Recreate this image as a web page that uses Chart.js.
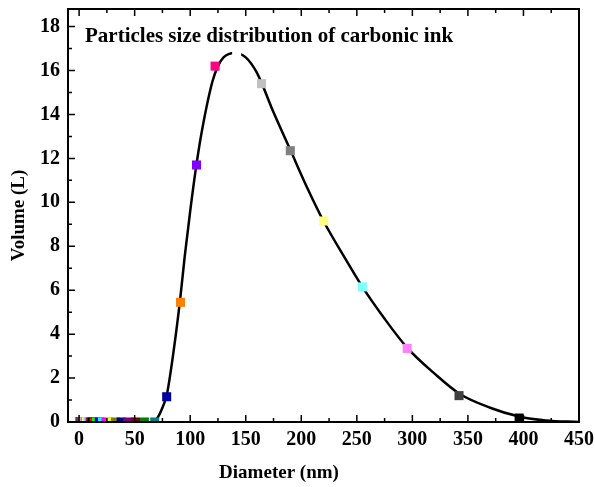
<!DOCTYPE html>
<html>
<head>
<meta charset="utf-8">
<script src="https://cdn.jsdelivr.net/npm/chart.js@4.4.0/dist/chart.umd.min.js"></script>
<style>
  body { margin: 0; background: #fff; }
</style>
</head>
<body>
<canvas id="sizeChart" width="595" height="487"></canvas>
<script>
// size classes (nm) and measured volume
const diameters = [0.4, 0.4632, 0.5365, 0.6213, 0.7195, 0.8332, 0.9649, 1.117, 1.294, 1.499,
    1.736, 2.01, 2.328, 2.696, 3.122, 3.615, 4.187, 4.849, 5.615, 6.503, 7.531, 8.721, 10.1,
    11.7, 13.54, 15.69, 18.17, 21.04, 24.36, 28.21, 32.67, 37.84, 43.82, 50.75, 58.77, 68.06,
    78.82, 91.28, 105.7, 122.4, 141.8, 164.2, 190.1, 220.2, 255.0, 295.3, 342.0, 396.1];
const volumes = [0, 0, 0, 0, 0, 0, 0, 0, 0, 0,
    0, 0, 0, 0, 0, 0, 0, 0, 0, 0, 0, 0, 0,
    0, 0, 0, 0, 0, 0, 0, 0, 0, 0, 0, 0, 0,
    1.15, 5.45, 11.7, 16.2, 16.8, 15.4, 12.35, 9.15, 6.15, 3.35, 1.2, 0.18];

// fitted curve
const fitX = [66, 70, 75, 79, 85, 91, 95, 100, 105, 110, 120, 125, 130, 140, 150, 160, 175,
    190, 205, 220, 240, 255, 275, 295, 320, 342, 370, 396, 420, 450];
const fitY = [0, 0.15, 0.65, 1.25, 3.2, 5.6, 7.5, 9.6, 11.5, 13.1, 15.5, 16.2, 16.6, 16.8,
    16.6, 15.9, 14.1, 12.4, 10.7, 9.15, 7.4, 6.15, 4.7, 3.4, 2.2, 1.3, 0.65, 0.25, 0.07, 0];

const xTicks = [0, 50, 100, 150, 200, 250, 300, 350, 400, 450];
const yTicks = [0, 2, 4, 6, 8, 10, 12, 14, 16, 18];

// Origin default colour cycle
const palette = ['#000000', '#FF0000', '#00FF00', '#0000FF', '#00FFFF', '#FF00FF', '#FFFF00',
    '#808000', '#000080', '#800080', '#800000', '#008000', '#008080', '#0000A0', '#FF8000',
    '#8000FF', '#FF0080', '#FFFFFF', '#C0C0C0', '#808080', '#FFFF80', '#80FFFF', '#FF80FF',
    '#404040'];
const pointColors = diameters.map((d, i) => palette[(i + 1) % palette.length]);

const serif = "'Liberation Serif', 'Times New Roman', serif";

const frameAndTicks = {
    id: 'frameAndTicks',
    afterDraw(chart) {
        const ctx = chart.ctx;
        const a = chart.chartArea;
        const x = chart.scales.x, y = chart.scales.y;
        ctx.save();
        ctx.strokeStyle = '#000';
        ctx.lineWidth = 2;
        ctx.strokeRect(a.left, a.top, a.right - a.left, a.bottom - a.top);
        ctx.lineWidth = 1.5;
        ctx.beginPath();
        for (let i = 0; i < xTicks.length; i++) {
            const px = x.getPixelForValue(xTicks[i]);
            ctx.moveTo(px, a.bottom); ctx.lineTo(px, a.bottom - 7);
            ctx.moveTo(px, a.top); ctx.lineTo(px, a.top + 7);
            if (i < xTicks.length - 1) {
                const mx = x.getPixelForValue((xTicks[i] + xTicks[i + 1]) / 2);
                ctx.moveTo(mx, a.bottom); ctx.lineTo(mx, a.bottom - 4);
                ctx.moveTo(mx, a.top); ctx.lineTo(mx, a.top + 4);
            }
        }
        for (let i = 0; i < yTicks.length; i++) {
            const py = y.getPixelForValue(yTicks[i]);
            ctx.moveTo(a.left, py); ctx.lineTo(a.left + 7, py);
            if (i < yTicks.length - 1) {
                const my = y.getPixelForValue((yTicks[i] + yTicks[i + 1]) / 2);
                ctx.moveTo(a.left, my); ctx.lineTo(a.left + 4, my);
            }
        }
        ctx.stroke();

        ctx.fillStyle = '#000';
        ctx.font = 'bold 21px ' + serif;
        ctx.textBaseline = 'alphabetic';
        ctx.fillText('Particles size distribution of carbonic ink', a.left + 17, a.top + 33);

        // x axis title sits left of centre in the original
        ctx.font = 'bold 19px ' + serif;
        ctx.textAlign = 'center';
        ctx.textBaseline = 'middle';
        ctx.fillText('Diameter (nm)', a.left + 211, a.bottom + 51);
        ctx.restore();
    }
};

new Chart(document.getElementById('sizeChart'), {
    type: 'scatter',
    data: {
        datasets: [{
            data: diameters.map((d, i) => ({ x: d, y: volumes[i] })),
            pointStyle: 'rect',
            pointRadius: 6.4,
            pointHoverRadius: 6.4,
            pointBackgroundColor: pointColors,
            pointBorderWidth: 0,
            showLine: false,
            clip: 0
        }, {
            data: fitX.map((v, i) => ({ x: v, y: fitY[i] })),
            showLine: true,
            borderColor: '#000',
            borderWidth: 2.5,
            pointRadius: 0,
            cubicInterpolationMode: 'monotone',
            clip: 0
        }]
    },
    options: {
        responsive: false,
        animation: false,
        layout: { padding: { left: 0, top: 9, right: 16, bottom: 0 } },
        plugins: { legend: { display: false }, tooltip: { enabled: false } },
        scales: {
            x: {
                type: 'linear',
                min: -10,
                max: 450,
                afterBuildTicks: s => { s.ticks = xTicks.map(v => ({ value: v })); },
                afterFit: s => { s.height = 65; s.paddingLeft = 0; s.paddingRight = 0; },
                grid: { display: false, drawTicks: false },
                border: { display: false },
                ticks: { color: '#000', padding: 6, maxRotation: 0, font: { family: serif, size: 20, weight: 'bold' } },
                title: { display: false }
            },
            y: {
                min: 0,
                max: 18.8,
                afterBuildTicks: s => { s.ticks = yTicks.map(v => ({ value: v })); },
                afterFit: s => { s.width = 68; s.paddingTop = 0; s.paddingBottom = 0; },
                grid: { display: false, drawTicks: false },
                border: { display: false },
                ticks: { color: '#000', padding: 8, font: { family: serif, size: 20, weight: 'bold' } },
                title: { display: true, text: 'Volume (L)', color: '#000', padding: { top: 8, bottom: 0 },
                    font: { family: serif, size: 19, weight: 'bold' } }
            }
        }
    },
    plugins: [frameAndTicks]
});
</script>
</body>
</html>
